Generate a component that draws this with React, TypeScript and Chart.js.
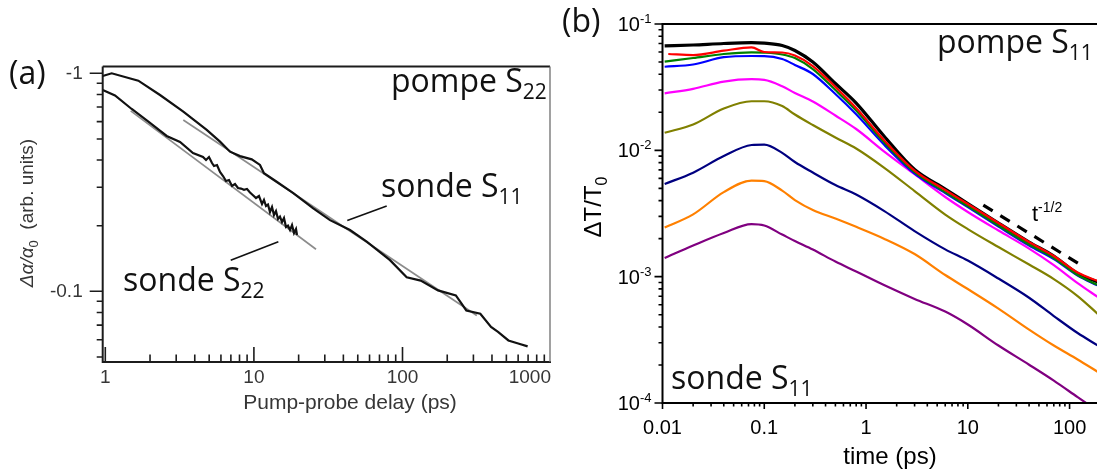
import React, { useEffect, useRef } from 'react';
import { Chart, registerables } from 'chart.js';

Chart.register(...registerables);

const W = 1097;
const H = 472;

// ================= Panel (a) =================
// probe S11 (upper curve)
const A_S11_T = [0.961, 1.104, 1.668, 2.334, 3.349, 4.813, 5.914, 6.906, 8.063, 9.666, 10.99, 11.69, 14.23, 18.41, 25.09, 32.52, 44.33, 57.42, 82.39, 106.7, 132.6, 173.4, 228.5, 268.8, 333.9, 394.2, 439.3, 516.0, 608.1, 695.1];
const A_S11_V = [0.972, 1.0, 0.925, 0.795, 0.667, 0.550, 0.486, 0.437, 0.417, 0.403, 0.380, 0.348, 0.318, 0.282, 0.240, 0.212, 0.191, 0.169, 0.139, 0.116, 0.112, 0.101, 0.0958, 0.0817, 0.0789, 0.0686, 0.0651, 0.0595, 0.0575, 0.0559];
// probe S22 (lower, noisy curve)
const A_S22_T = [0.961, 1.162, 1.505, 1.999, 2.589, 3.182, 3.892, 4.544, 4.761, 4.987, 5.224, 5.389, 5.646, 5.914, 6.196, 6.49, 6.799, 7.122, 7.461, 7.816, 8.188, 8.578, 8.986, 9.415, 9.861, 10.33, 10.82, 11.34, 11.69, 12.06, 12.44, 12.83, 13.24, 13.65, 14.08, 14.53, 14.98, 15.46, 15.94, 16.44, 16.96, 17.5, 18.05, 18.62, 19.2, 19.5];
const A_S22_V = [0.838, 0.791, 0.686, 0.592, 0.516, 0.484, 0.431, 0.4131, 0.4003, 0.4131, 0.3878, 0.3757, 0.3797, 0.3526, 0.338, 0.3206, 0.324, 0.3041, 0.3106, 0.2977, 0.296, 0.292, 0.2946, 0.284, 0.276, 0.2679, 0.2736, 0.2514, 0.2623, 0.2462, 0.25, 0.2311, 0.2436, 0.2239, 0.2335, 0.2146, 0.22, 0.2079, 0.2169, 0.1972, 0.2, 0.191, 0.2014, 0.1851, 0.1931, 0.1813];
// grey power-law fits
const A_FIT1_T = [1.482, 26.17];
const A_FIT1_V = [0.672, 0.156];
const A_FIT2_T = [3.349, 316.2];
const A_FIT2_V = [0.611, 0.0775];
// pointer lines of the labels
const A_PTR_S11_T = [42.5, 78.3];
const A_PTR_S11_V = [0.211, 0.246];
const A_PTR_S22_T = [6.98, 14.6];
const A_PTR_S22_V = [0.139, 0.169];
// axes
const A_X_MAJOR = [1, 10, 100, 1000];
const A_X_LABELS = ['1', '10', '100', '1000'];
const A_X_MINOR = [2, 3, 4, 5, 6, 7, 8, 9, 20, 30, 40, 50, 60, 70, 80, 90, 200, 300, 400, 500, 600, 700, 800, 900];
const A_Y_MAJOR = [1, 0.1];
const A_Y_LABELS = ['-1', '-0.1'];
const A_Y_MINOR = [0.9, 0.8, 0.7, 0.6, 0.5, 0.4, 0.3, 0.2, 0.09, 0.08, 0.07, 0.06, 0.05];

// ================= Panel (b) =================
const B_T = [0.0105, 0.02, 0.04, 0.075, 0.1, 0.15, 0.2, 0.3, 0.5, 0.8, 1.5, 3, 6, 10, 20, 40, 70, 120, 190];
const B_T_RED = [0.0114, 0.02, 0.04, 0.075, 0.1, 0.15, 0.2, 0.3, 0.5, 0.8, 1.5, 3, 6, 10, 20, 40, 70, 120, 190];
const B_BLACK = [0.067, 0.0682, 0.0701, 0.0711, 0.0705, 0.0676, 0.0617, 0.05, 0.0338, 0.02368, 0.01298, 0.00705, 0.00494, 0.00379, 0.002657, 0.001879, 0.001456, 0.001058, 0.000906];
const B_RED = [0.0579, 0.0568, 0.0615, 0.0652, 0.06, 0.0595, 0.0563, 0.0465, 0.0317, 0.02162, 0.01207, 0.00692, 0.00485, 0.00376, 0.002657, 0.001879, 0.001456, 0.001078, 0.000923];
const B_GREEN = [0.0503, 0.0538, 0.0579, 0.0596, 0.0593, 0.0574, 0.0538, 0.044, 0.03, 0.02065, 0.01163, 0.00673, 0.00467, 0.00362, 0.002539, 0.001795, 0.001404, 0.00103, 0.000858];
const B_BLUE = [0.0459, 0.0478, 0.0546, 0.0558, 0.0557, 0.0528, 0.0474, 0.0402, 0.0279, 0.01928, 0.01111, 0.00655, 0.00459, 0.00356, 0.002493, 0.001763, 0.001378, 0.00102, 0.00085];
const B_MAGENTA = [0.02827, 0.03068, 0.03499, 0.03655, 0.03615, 0.03217, 0.02843, 0.02434, 0.01886, 0.01475, 0.00982, 0.00647, 0.00427, 0.00325, 0.002317, 0.001669, 0.001235, 0.00089, 0.000689];
const B_OLIVE = [0.01378, 0.016, 0.02143, 0.02447, 0.02447, 0.02243, 0.0192, 0.01585, 0.01263, 0.01033, 0.0073, 0.00476, 0.003102, 0.002381, 0.001715, 0.001247, 0.000957, 0.000702, 0.000506];
const B_NAVY = [0.00541, 0.00666, 0.00902, 0.01102, 0.01111, 0.00955, 0.00808, 0.00667, 0.00531, 0.00447, 0.00332, 0.002296, 0.001645, 0.001341, 0.000966, 0.000681, 0.000488, 0.000358, 0.000285];
const B_ORANGE = [0.002447, 0.003113, 0.00467, 0.00576, 0.00571, 0.0048, 0.00404, 0.00337, 0.002884, 0.002479, 0.002, 0.00151, 0.00103, 0.000798, 0.000559, 0.000381, 0.000285, 0.000221, 0.000176];
const B_PURPLE = [0.001404, 0.001763, 0.002214, 0.002609, 0.002539, 0.002154, 0.001913, 0.001639, 0.001317, 0.001099, 0.000858, 0.000667, 0.000529, 0.000418, 0.000285, 0.000201, 0.0001504, 0.0001113, 0.0000863];
// t^-1/2 guide
const B_DASH_T = [14.2, 122];
const B_DASH_V = [0.00369, 0.00127];
// axes
const B_X_MAJOR = [0.01, 0.1, 1, 10, 100];
const B_X_LABELS = ['0.01', '0.1', '1', '10', '100'];
const B_X_MINOR = [0.02, 0.03, 0.04, 0.05, 0.06, 0.07, 0.08, 0.09, 0.2, 0.3, 0.4, 0.5, 0.6, 0.7, 0.8, 0.9, 2, 3, 4, 5, 6, 7, 8, 9, 20, 30, 40, 50, 60, 70, 80, 90, 200];
const B_Y_MAJOR = [0.1, 0.01, 0.001, 0.0001];
const B_Y_EXP = ['-1', '-2', '-3', '-4'];
const B_Y_MINOR = [0.0002, 0.0003, 0.0004, 0.0005, 0.0006, 0.0007, 0.0008, 0.0009, 0.002, 0.003, 0.004, 0.005, 0.006, 0.007, 0.008, 0.009, 0.02, 0.03, 0.04, 0.05, 0.06, 0.07, 0.08, 0.09];

const SANS = '"Liberation Sans", Arial, sans-serif';
const OPEN = '"Open Sans", "Noto Sans", sans-serif';

type Part = { t: string; font: string; dy?: number };

function drawParts(ctx: CanvasRenderingContext2D, parts: Part[], x: number, y: number, align: 'left' | 'center' | 'right' = 'left') {
  ctx.save();
  ctx.textBaseline = 'alphabetic';
  ctx.textAlign = 'left';
  let total = 0;
  const widths = parts.map((p) => {
    ctx.font = p.font;
    const w = ctx.measureText(p.t).width;
    total += w;
    return w;
  });
  let cx = align === 'left' ? x : align === 'center' ? x - total / 2 : x - total;
  parts.forEach((p, i) => {
    ctx.font = p.font;
    ctx.fillText(p.t, cx, y + (p.dy || 0));
    cx += widths[i];
  });
  ctx.restore();
}

function pts(t: number[], v: number[]) {
  return t.map((x, i) => ({ x, y: v[i] }));
}

const panelAPlugin = {
  id: 'panelA',
  afterDraw(chart: any) {
    const { ctx, chartArea: ca } = chart;
    const xs = chart.scales.x;
    const ys = chart.scales.y;
    ctx.save();
    ctx.lineCap = 'butt';
    ctx.strokeStyle = '#1c1c1c';
    ctx.lineWidth = 2;
    ctx.beginPath();
    ctx.moveTo(ca.left, ca.top);
    ctx.lineTo(ca.right, ca.top);
    ctx.moveTo(ca.left, ca.top);
    ctx.lineTo(ca.left, ca.bottom + 1);
    ctx.moveTo(ca.left - 1, ca.bottom);
    ctx.lineTo(ca.right + 1, ca.bottom);
    ctx.stroke();
    ctx.strokeStyle = '#6e6e6e';
    ctx.lineWidth = 1.3;
    ctx.beginPath();
    ctx.moveTo(ca.right, ca.top);
    ctx.lineTo(ca.right, ca.bottom);
    ctx.stroke();

    ctx.strokeStyle = '#1c1c1c';
    ctx.lineWidth = 1.6;
    ctx.beginPath();
    A_Y_MAJOR.forEach((v) => {
      const y = ys.getPixelForValue(v);
      ctx.moveTo(ca.left - 13, y);
      ctx.lineTo(ca.left, y);
    });
    A_Y_MINOR.forEach((v) => {
      const y = ys.getPixelForValue(v);
      ctx.moveTo(ca.left - 6, y);
      ctx.lineTo(ca.left, y);
    });
    A_X_MAJOR.forEach((v) => {
      const x = xs.getPixelForValue(v);
      if (x <= ca.right + 1) {
        ctx.moveTo(x, ca.bottom);
        ctx.lineTo(x, ca.bottom - 15);
      }
    });
    A_X_MINOR.forEach((v) => {
      const x = xs.getPixelForValue(v);
      if (x <= ca.right) {
        ctx.moveTo(x, ca.bottom);
        ctx.lineTo(x, ca.bottom - 7.5);
      }
    });
    ctx.stroke();

    ctx.fillStyle = '#363636';
    ctx.font = '19px ' + SANS;
    ctx.textBaseline = 'middle';
    ctx.textAlign = 'right';
    A_Y_MAJOR.forEach((v, i) => ctx.fillText(A_Y_LABELS[i], ca.left - 20, ys.getPixelForValue(v)));
    ctx.textAlign = 'center';
    A_X_MAJOR.forEach((v, i) => {
      let x = xs.getPixelForValue(v);
      const w = ctx.measureText(A_X_LABELS[i]).width;
      if (x + w / 2 > ca.right + 1) x = ca.right + 1 - w / 2;
      ctx.fillText(A_X_LABELS[i], x, ca.bottom + 16);
    });
    drawParts(ctx, [{ t: 'Pump-probe delay (ps)', font: '21px ' + SANS }], 350, ca.bottom + 47, 'center');

    // y title (rotated)
    ctx.save();
    ctx.translate(26, 213);
    ctx.rotate(-Math.PI / 2);
    drawParts(ctx, [
      { t: 'Δα/α', font: 'italic 19px ' + SANS },
      { t: '0', font: '13px ' + SANS, dy: 5 },
      { t: '  (arb. units)', font: '19px ' + SANS },
    ], 0, 7, 'center');
    ctx.restore();

    // annotations
    ctx.fillStyle = '#111';
    drawParts(ctx, [{ t: '(a)', font: '32px ' + OPEN }], 9, 84);
    drawParts(ctx, [{ t: 'pompe S', font: '32px ' + OPEN }, { t: '22', font: '21px ' + OPEN, dy: 7 }], 391, 92);
    drawParts(ctx, [{ t: 'sonde S', font: '32px ' + OPEN }, { t: '11', font: '21px ' + OPEN, dy: 7 }], 381, 197);
    drawParts(ctx, [{ t: 'sonde S', font: '32px ' + OPEN }, { t: '22', font: '21px ' + OPEN, dy: 7 }], 123, 291);
    ctx.restore();
  },
};

const panelBPlugin = {
  id: 'panelB',
  afterDraw(chart: any) {
    const { ctx, chartArea: ca } = chart;
    const xs = chart.scales.x;
    const ys = chart.scales.y;
    ctx.save();
    ctx.strokeStyle = '#000';
    ctx.lineWidth = 2;
    ctx.beginPath();
    ctx.moveTo(ca.left, ca.top);
    ctx.lineTo(ca.right + 2, ca.top);
    ctx.moveTo(ca.left, ca.top - 1);
    ctx.lineTo(ca.left, ca.bottom + 1);
    ctx.moveTo(ca.left - 1, ca.bottom);
    ctx.lineTo(ca.right + 2, ca.bottom);
    ctx.stroke();

    ctx.lineWidth = 1.6;
    ctx.beginPath();
    B_Y_MAJOR.forEach((v) => {
      const y = ys.getPixelForValue(v);
      ctx.moveTo(ca.left - 8, y);
      ctx.lineTo(ca.left, y);
    });
    B_Y_MINOR.forEach((v) => {
      const y = ys.getPixelForValue(v);
      ctx.moveTo(ca.left - 4, y);
      ctx.lineTo(ca.left, y);
    });
    B_X_MAJOR.forEach((v) => {
      const x = xs.getPixelForValue(v);
      ctx.moveTo(x, ca.bottom);
      ctx.lineTo(x, ca.bottom + 6);
    });
    B_X_MINOR.forEach((v) => {
      const x = xs.getPixelForValue(v);
      if (x <= ca.right + 1) {
        ctx.moveTo(x, ca.bottom);
        ctx.lineTo(x, ca.bottom + 3.5);
      }
    });
    ctx.stroke();

    ctx.fillStyle = '#000';
    ctx.font = '20px ' + SANS;
    ctx.textAlign = 'center';
    ctx.textBaseline = 'middle';
    B_X_MAJOR.forEach((v, i) => ctx.fillText(B_X_LABELS[i], xs.getPixelForValue(v), ca.bottom + 25));
    ctx.font = '24px ' + SANS;
    ctx.fillText('time (ps)', 890, ca.bottom + 54);

    B_Y_MAJOR.forEach((v, i) => {
      const y = ys.getPixelForValue(v);
      ctx.font = '13px ' + SANS;
      const sw = ctx.measureText(B_Y_EXP[i]).width;
      drawParts(ctx, [{ t: '10', font: '20px ' + SANS }], ca.left - 11 - sw, y + 7, 'right');
      drawParts(ctx, [{ t: B_Y_EXP[i], font: '13px ' + SANS }], ca.left - 11, y - 1, 'right');
    });

    ctx.save();
    ctx.translate(592, 207);
    ctx.rotate(-Math.PI / 2);
    drawParts(ctx, [
      { t: 'ΔT/T', font: '24px ' + SANS },
      { t: '0', font: '16px ' + SANS, dy: 6 },
    ], 0, 9, 'center');
    ctx.restore();

    ctx.fillStyle = '#111';
    drawParts(ctx, [{ t: '(b)', font: '32px ' + OPEN }], 562, 32);
    drawParts(ctx, [{ t: 'pompe S', font: '32px ' + OPEN }, { t: '11', font: '21px ' + OPEN, dy: 7 }], 937, 53);
    drawParts(ctx, [{ t: 'sonde S', font: '32px ' + OPEN }, { t: '11', font: '21px ' + OPEN, dy: 7 }], 671, 389);
    ctx.fillStyle = '#000';
    drawParts(ctx, [{ t: 't', font: '22px ' + SANS }, { t: '-1/2', font: '14px ' + SANS, dy: -9 }], 1032, 221);
    ctx.restore();
  },
};

function lineDs(label: string, data: any[], color: string, width: number, extra: any = {}) {
  return {
    label,
    data,
    borderColor: color,
    backgroundColor: color,
    borderWidth: width,
    pointRadius: 0,
    fill: false,
    tension: 0,
    ...extra,
  };
}

export default function App() {
  const refA = useRef<HTMLCanvasElement>(null);
  const refB = useRef<HTMLCanvasElement>(null);

  useEffect(() => {
    document.body.style.margin = '0';
    const common = {
      responsive: false,
      maintainAspectRatio: false,
      devicePixelRatio: 1,
      animation: false as const,
      events: [] as any[],
      plugins: { legend: { display: false }, tooltip: { enabled: false } },
    };

    const chartA = new Chart(refA.current as HTMLCanvasElement, {
      type: 'line',
      data: {
        datasets: [
          lineDs('pointer S11', pts(A_PTR_S11_T, A_PTR_S11_V), '#111', 1.6),
          lineDs('pointer S22', pts(A_PTR_S22_T, A_PTR_S22_V), '#111', 1.6),
          lineDs('sonde S11', pts(A_S11_T, A_S11_V), '#111', 2.2),
          lineDs('sonde S22', pts(A_S22_T, A_S22_V), '#111', 2.2),
          lineDs('fit S11', pts(A_FIT2_T, A_FIT2_V), '#8c8c8c', 1.7),
          lineDs('fit S22', pts(A_FIT1_T, A_FIT1_V), '#8c8c8c', 1.7),
        ],
      },
      options: {
        ...common,
        layout: { padding: { left: 102.7, top: 66.5, right: W - 550, bottom: H - 362 } },
        scales: {
          x: { type: 'logarithmic', display: false, min: 0.9605, max: 983 },
          y: { type: 'logarithmic', display: false, min: 0.0474, max: 1.0745 },
        },
      },
      plugins: [panelAPlugin],
    } as any);

    const mono = { cubicInterpolationMode: 'monotone' };
    const chartB = new Chart(refB.current as HTMLCanvasElement, {
      type: 'line',
      data: {
        datasets: [
          lineDs('t^-1/2', pts(B_DASH_T, B_DASH_V), '#000', 3.2, { borderDash: [11, 9] }),
          lineDs('red', pts(B_T_RED, B_RED), '#ff0000', 2.2, mono),
          lineDs('green', pts(B_T, B_GREEN), '#008000', 2.2, mono),
          lineDs('blue', pts(B_T, B_BLUE), '#0000ff', 2.2, mono),
          lineDs('black', pts(B_T, B_BLACK), '#000000', 3.2, mono),
          lineDs('magenta', pts(B_T, B_MAGENTA), '#ff00ff', 2.2, mono),
          lineDs('olive', pts(B_T, B_OLIVE), '#808000', 2.2, mono),
          lineDs('navy', pts(B_T, B_NAVY), '#000080', 2.2, mono),
          lineDs('orange', pts(B_T, B_ORANGE), '#ff8000', 2.2, mono),
          lineDs('purple', pts(B_T, B_PURPLE), '#800080', 2.2, mono),
        ],
      },
      options: {
        ...common,
        layout: { padding: { left: 662.5, top: 24, right: 0, bottom: H - 403 } },
        scales: {
          x: { type: 'logarithmic', display: false, min: 0.01, max: 186 },
          y: { type: 'logarithmic', display: false, min: 0.0001, max: 0.1 },
        },
      },
      plugins: [panelBPlugin],
    } as any);

    return () => {
      chartA.destroy();
      chartB.destroy();
    };
  }, []);

  const cs: React.CSSProperties = { position: 'absolute', left: 0, top: 0, width: W, height: H };
  return (
    <div style={{ position: 'relative', width: W, height: H, background: '#fff', overflow: 'hidden' }}>
      <canvas ref={refA} width={W} height={H} style={cs} />
      <canvas ref={refB} width={W} height={H} style={cs} />
    </div>
  );
}
